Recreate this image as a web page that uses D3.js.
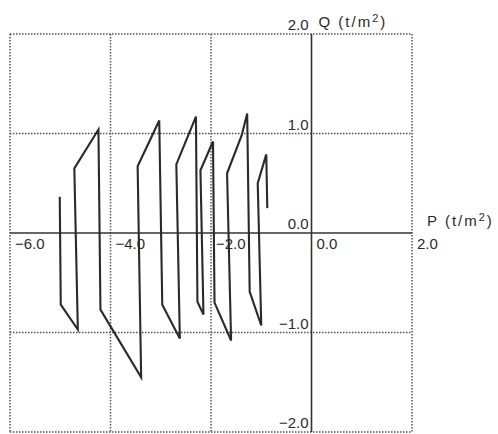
<!DOCTYPE html>
<html>
<head>
<meta charset="utf-8">
<script src="https://cdn.jsdelivr.net/npm/d3@7/dist/d3.min.js"></script>
<style>
  html, body { margin: 0; padding: 0; background: #fff; }
  svg { display: block; }
  text { font-family: "Liberation Sans", Arial, sans-serif; font-size: 15px; fill: #2b2b2b; }
</style>
</head>
<body>
<svg id="chart" width="498" height="434"></svg>
<script>
// Load path in the P–Q stress plane (t/m²)
const pValues = [-5.01, -4.99, -4.65, -4.72, -4.24, -4.20, -3.39, -3.46, -3.03, -2.97,
                 -2.62, -2.69, -2.30, -2.27, -2.15, -2.21, -1.96, -1.93, -1.60, -1.68,
                 -1.39, -1.28, -1.23, -1.00, -1.07, -0.90, -0.88];
const qValues = [0.365, -0.72, -0.97, 0.65, 1.04, -0.77, -1.45, 0.67, 1.13, -0.72,
                 -1.06, 0.69, 1.17, -0.69, -0.82, 0.63, 0.92, -0.70, -1.08, 0.60,
                 0.98, 1.20, -0.59, -0.93, 0.50, 0.79, 0.25];

const pTicks = [-6, -4, -2, 0, 2];
const qTicks = [2, 1, 0, -1, -2];
const pDomain = [-6, 2];
const qDomain = [-2, 2];

const svg = d3.select("#chart");
const x = d3.scaleLinear().domain(pDomain).range([10, 412]);
const y = d3.scaleLinear().domain(qDomain).range([432, 34]);
const fmt = d3.format(".1f");

const grid = svg.append("g")
  .attr("fill", "none")
  .attr("stroke", "#555")
  .attr("stroke-width", 1.5)
  .attr("stroke-dasharray", "1.5,1.5");

// dotted grid, including the outer frame
grid.selectAll("line.v").data(pTicks.filter(d => d !== 0)).join("line")
  .attr("x1", d => x(d)).attr("x2", d => x(d))
  .attr("y1", y(qDomain[1])).attr("y2", y(qDomain[0]));
grid.selectAll("line.h").data(qTicks.filter(d => d !== 0)).join("line")
  .attr("y1", d => y(d)).attr("y2", d => y(d))
  .attr("x1", x(pDomain[0])).attr("x2", x(pDomain[1]));

// solid axes through the origin
const axes = svg.append("g").attr("stroke", "#333").attr("stroke-width", 1.6);
axes.append("line")
  .attr("x1", x(0)).attr("x2", x(0))
  .attr("y1", y(qDomain[1])).attr("y2", y(qDomain[0]));
axes.append("line")
  .attr("x1", x(pDomain[0])).attr("x2", x(pDomain[1]))
  .attr("y1", y(0)).attr("y2", y(0));

// P tick labels, to the right of each grid line under the P axis
svg.append("g").selectAll("text").data(pTicks).join("text")
  .attr("x", d => x(d) + 5)
  .attr("y", y(0) + 16)
  .text(d => fmt(d));

// Q tick labels, left of the Q axis, just above each line
svg.append("g").selectAll("text").data(qTicks).join("text")
  .attr("x", x(0) - 3)
  .attr("y", d => y(d) - 4)
  .attr("text-anchor", "end")
  .text(d => fmt(d));

// axis titles
const qTitle = svg.append("text")
  .attr("x", x(0) + 7)
  .attr("y", y(qDomain[1]) - 7)
  .attr("letter-spacing", "2");
qTitle.append("tspan").text("Q (t/m");
qTitle.append("tspan").attr("font-size", "11px").attr("dy", -5).text("2");
qTitle.append("tspan").attr("dy", 5).text(")");

const pTitle = svg.append("text")
  .attr("x", x(pDomain[1]) + 15)
  .attr("y", y(0) - 7)
  .attr("letter-spacing", "2");
pTitle.append("tspan").text("P (t/m");
pTitle.append("tspan").attr("font-size", "11px").attr("dy", -5).text("2");
pTitle.append("tspan").attr("dy", 5).text(")");

// load path
const path = d3.line().x(d => x(d[0])).y(d => y(d[1]));
svg.append("path")
  .datum(pValues.map((p, i) => [p, qValues[i]]))
  .attr("d", path)
  .attr("fill", "none")
  .attr("stroke", "#2a2a2a")
  .attr("stroke-width", 2.1)
  .attr("stroke-linejoin", "miter");
</script>
</body>
</html>
